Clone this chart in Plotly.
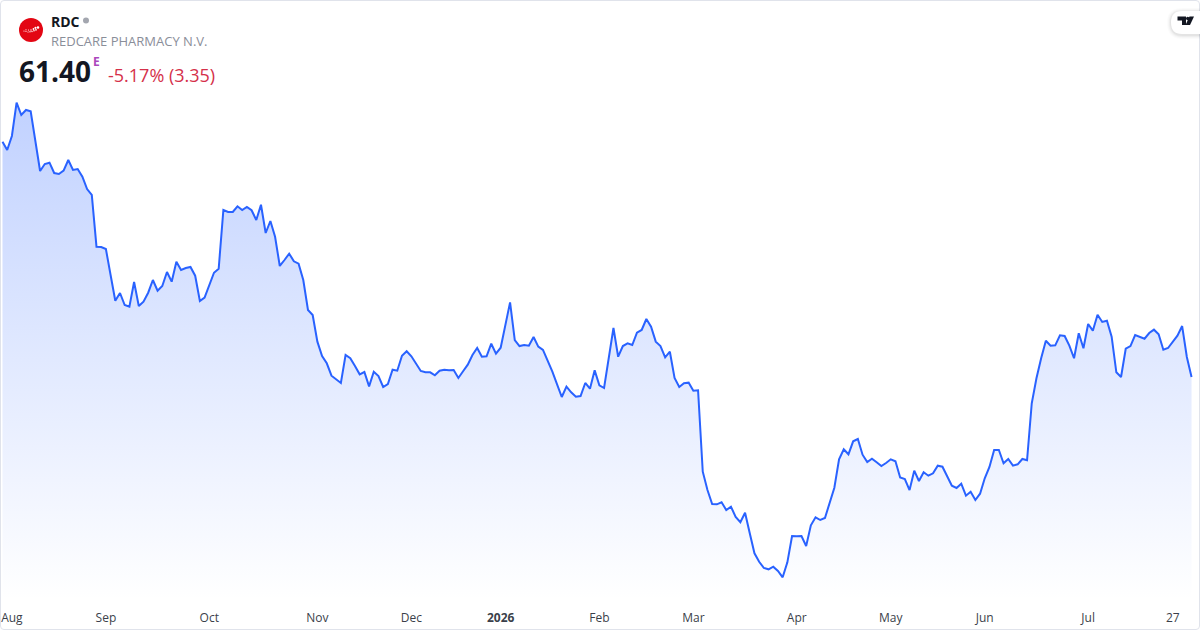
import pandas as pd
import plotly.graph_objects as go

closed_days = ["2025-12-24", "2025-12-25", "2025-12-26", "2025-12-31", "2026-01-01",
               "2026-04-03", "2026-04-06", "2026-05-01"]
all_days = pd.bdate_range("2025-07-31", "2026-07-31")
dates = [d.strftime("%Y-%m-%d") for d in all_days if d.strftime("%Y-%m-%d") not in closed_days]

close = [
    100.81, 99.43, 101.77, 107.35, 105.29, 106.13, 105.91, 100.60, 95.91, 97.08,
    97.30, 95.57, 95.41, 95.96, 97.75, 96.08, 96.24, 94.95, 92.89, 91.89,
    83.23, 83.18, 82.84, 78.49, 74.18, 75.47, 73.46, 73.18, 77.31, 73.29,
    74.02, 75.52, 77.65, 75.86, 76.65, 78.99, 77.37, 80.72, 79.33, 79.66,
    79.83, 78.37, 74.13, 74.69, 76.81, 78.87, 79.54, 89.38, 89.04, 89.04,
    90.00, 89.38, 89.88, 89.33, 87.70, 90.26, 85.52, 87.53, 84.90, 80.00,
    81.00, 82.06, 80.78, 80.38, 77.65, 72.63, 71.79, 67.32, 64.92, 63.70,
    61.62, 61.02, 60.40, 65.09, 64.54, 63.25, 61.85, 62.24, 59.84, 62.29,
    61.57, 59.73, 60.23, 62.62, 62.46, 64.97, 65.71, 64.87, 63.58, 62.41,
    62.19, 62.19, 61.69, 62.46, 62.62, 62.52, 62.58, 61.24, 62.36, 63.47,
    65.09, 66.26, 64.80, 64.87, 66.98, 65.31, 66.31, 69.83, 73.91, 67.60,
    66.59, 66.76, 66.65, 68.10, 66.48, 65.93, 64.13, 62.29, 60.18, 58.05,
    59.78, 58.84, 58.10, 58.22, 60.40, 59.44, 62.52, 60.01, 59.56, 64.54,
    69.61, 64.80, 66.59, 67.05, 66.76, 68.82, 69.28, 71.12, 69.83, 67.32,
    66.59, 64.70, 65.64, 61.24, 59.73, 60.35, 60.45, 59.11, 59.18, 45.54,
    42.47, 40.13, 40.08, 40.41, 39.13, 39.68, 37.95, 37.07, 38.67, 35.22,
    31.87, 30.46, 29.41, 29.19, 29.63, 28.91, 27.85, 30.36, 34.77, 34.72,
    34.77, 33.10, 36.56, 37.90, 37.45, 37.79, 40.25, 42.86, 47.62, 49.29,
    48.46, 50.63, 51.02, 48.39, 47.17, 47.72, 47.11, 46.50, 47.00, 47.62,
    47.28, 44.57, 44.32, 42.47, 45.71, 43.98, 45.44, 44.87, 45.27, 46.55,
    46.38, 44.87, 43.19, 42.81, 43.53, 41.52, 42.19, 40.80, 41.86, 44.44,
    46.33, 49.18, 49.18, 46.95, 47.67, 46.55, 46.78, 47.67, 47.45, 57.00,
    61.19, 64.54, 67.48, 66.65, 66.71, 68.39, 68.27, 66.65, 64.54, 68.72,
    66.21, 70.28, 69.16, 71.84, 70.62, 70.83, 68.15, 62.19, 61.40, 66.14,
    66.59, 68.44, 68.10, 67.82, 68.77, 69.33, 68.55, 65.97, 66.26, 67.26,
    68.32, 69.94, 64.75, 61.40,
]

tick_dates = ["2025-08-04", "2025-09-01", "2025-10-01", "2025-11-03", "2025-12-01", "2026-01-02",
              "2026-02-02", "2026-03-02", "2026-04-01", "2026-05-04", "2026-06-01", "2026-07-01",
              "2026-07-27"]
tick_labels = ["Aug", "Sep", "Oct", "Nov", "Dec", "<b>2026</b>", "Feb", "Mar", "Apr", "May", "Jun", "Jul", "27"]

FONT = "Open Sans"
BLUE = "#2962ff"
PLOT_H = 600


def px(x):
    return x / 1200


def py(y):
    return 1 - y / PLOT_H


def path(points):
    return "M " + " L ".join(f"{px(x)} {py(y)}" for x, y in points) + " Z"


def label(x, y, text, size, color, anchor="left", weight=None):
    fig.add_annotation(
        x=px(x), y=py(y), xref="paper", yref="paper", text=text, showarrow=False,
        xanchor=anchor, yanchor="middle", align="left", borderpad=0, borderwidth=0,
        font=dict(family=FONT, size=size, color=color, weight=weight),
    )


fig = go.Figure()

fig.add_scatter(
    x=dates, y=close, mode="lines",
    line=dict(color=BLUE, width=2),
    fill="tozeroy",
    fillgradient=dict(
        type="vertical",
        start=107.4, stop=24.05,
        colorscale=[[0, "rgba(41,98,255,0.29)"], [1, "rgba(41,98,255,0)"]],
    ),
    hoverinfo="skip",
)

# card border
fig.add_shape(
    type="path", xref="paper", yref="paper",
    path=(f"M {px(4)} {py(0.5)} L {px(1196)} {py(0.5)} Q {px(1199.5)} {py(0.5)} {px(1199.5)} {py(4)} "
          f"L {px(1199.5)} {py(626)} Q {px(1199.5)} {py(629.5)} {px(1196)} {py(629.5)} "
          f"L {px(4)} {py(629.5)} Q {px(0.5)} {py(629.5)} {px(0.5)} {py(626)} "
          f"L {px(0.5)} {py(4)} Q {px(0.5)} {py(0.5)} {px(4)} {py(0.5)} Z"),
    line=dict(color="#e0e3eb", width=1),
)

# logo
fig.add_shape(type="circle", xref="paper", yref="paper",
              x0=px(19), x1=px(43), y0=py(42), y1=py(18),
              fillcolor="#e30613", line_width=0)
logo_dots = [(24, 31, 0.6), (26, 31.5, 0.6), (28, 32, 0.6), (30, 31.8, 0.7), (32, 31.5, 0.7), (34, 30.8, 0.8),
             (36, 29.8, 0.9), (26, 29.8, 0.6), (28.5, 30, 0.6), (31, 30, 0.7), (33.5, 29, 0.9),
             (35.5, 27.8, 1.1), (38, 27.5, 1.3)]
for x, y, r in logo_dots:
    fig.add_shape(type="circle", xref="paper", yref="paper",
                  x0=px(x - r), x1=px(x + r), y0=py(y + r), y1=py(y - r),
                  fillcolor="white", line_width=0)

# market status dot
fig.add_shape(type="circle", xref="paper", yref="paper",
              x0=px(83), x1=px(89), y0=py(23.5), y1=py(17.5),
              fillcolor="#a3a6af", line_width=0)

# tradingview badge with soft shadow
for grow, alpha in [(4, 0.015), (3, 0.02), (2, 0.03), (1, 0.04)]:
    fig.add_shape(
        type="path", xref="paper", yref="paper",
        path=(f"M {px(1200)} {py(11 - grow + 1)} L {px(1182)} {py(11 - grow + 1)} "
              f"Q {px(1171 - grow)} {py(11 - grow + 1)} {px(1171 - grow)} {py(22.5)} "
              f"Q {px(1171 - grow)} {py(34 + grow + 1)} {px(1182)} {py(34 + grow + 1)} "
              f"L {px(1200)} {py(34 + grow + 1)} Z"),
        fillcolor=f"rgba(0,0,0,{alpha})", line_width=0,
    )
fig.add_shape(
    type="path", xref="paper", yref="paper",
    path=(f"M {px(1200)} {py(11)} L {px(1182)} {py(11)} Q {px(1171)} {py(11)} {px(1171)} {py(22.5)} "
          f"Q {px(1171)} {py(34)} {px(1182)} {py(34)} L {px(1200)} {py(34)} Z"),
    fillcolor="white", line_width=0,
)
tv_logo = [
    [(1177.5, 16.5), (1186, 16.5), (1186, 25), (1182, 25), (1182, 20.5), (1177.5, 20.5)],
    [(1189.5, 16.5), (1194, 16.5), (1190, 25), (1185.5, 25)],
]
for shape_pts in tv_logo:
    fig.add_shape(type="path", xref="paper", yref="paper", path=path(shape_pts),
                  fillcolor="#131722", line_width=0)
fig.add_shape(type="circle", xref="paper", yref="paper",
              x0=px(1186), x1=px(1189.4), y0=py(20.2), y1=py(16.8),
              fillcolor="#131722", line_width=0)

label(51, 21, "<b>RDC</b>", 14, "#131722")
label(51, 41, "REDCARE PHARMACY N.V.", 13, "#8a8e99")
label(19, 71, "<b>61.40</b>", 28, "#131722")
label(93, 62, "<b>E</b>", 12, "#ab47bc")
label(108, 75, "-5.17% (3.35)", 18, "#d5304a")

fig.update_layout(
    width=1200, height=630,
    margin=dict(l=0, r=0, t=0, b=30, pad=0),
    paper_bgcolor="white", plot_bgcolor="white",
    showlegend=False,
    xaxis=dict(
        type="category", categoryorder="array", categoryarray=dates,
        range=[-0.53, 254.8],
        tickmode="array", tickvals=tick_dates, ticktext=tick_labels,
        tickangle=0, ticks="outside", ticklen=7, tickcolor="rgba(0,0,0,0)",
        showgrid=False, showline=False, zeroline=False,
        tickfont=dict(family=FONT, size=12, color="#3b3f4a"),
    ),
    yaxis=dict(range=[24.05, 124.55], visible=False, showgrid=False, zeroline=False),
)

fig.write_html("out.html", config=dict(displayModeBar=False), post_script="document.body.style.margin='0';")
